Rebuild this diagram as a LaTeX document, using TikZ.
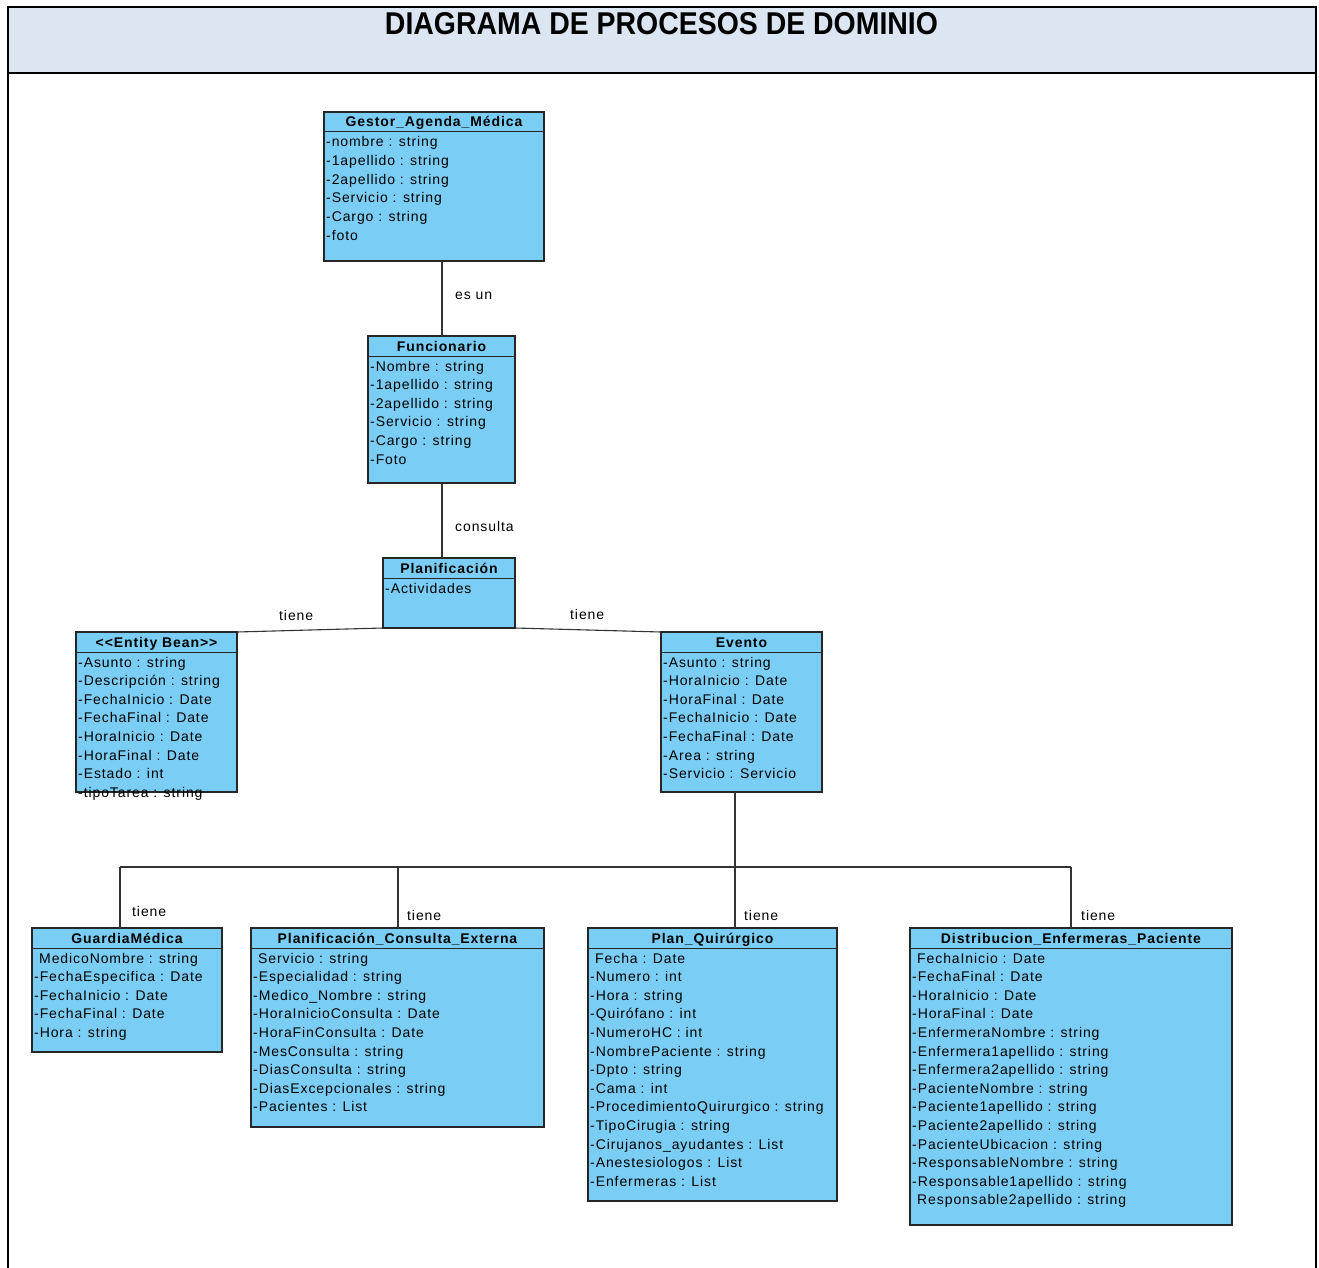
\documentclass[tikz,border=0pt]{standalone}
\usepackage{fontspec}
\usepackage{graphicx}
\usetikzlibrary{calc}
\setmainfont{Liberation Sans}
\newfontfamily\umlfont[LetterSpace=6.5]{Liberation Sans}

\definecolor{boxblue}{RGB}{122,206,245}
\definecolor{headerblue}{RGB}{220,230,242}

\tikzset{
  classbox/.style={draw=black!85, line width=1.1pt, fill=boxblue, anchor=north west,
                   inner sep=0pt, outer sep=0pt},
  sepline/.style={draw=black!85, line width=1pt},
  ctitle/.style={font=\umlfont\bfseries\fontsize{14}{16}\selectfont, anchor=base, inner sep=0pt},
  cattr/.style={font=\umlfont\fontsize{14}{16}\selectfont, anchor=base west, inner sep=0pt},
  link/.style={draw=black!80, line width=1.1pt},
  linklabel/.style={font=\umlfont\fontsize{14}{16}\selectfont, anchor=base west, inner sep=0pt},
}

% name, x1, y1, x2, y2, title, attributes
\newcommand\umlclass[7]{%
  \pgfmathsetmacro\cw{#4-#2}\pgfmathsetmacro\ch{#5-#3}%
  \node[classbox, minimum width=\cw pt, minimum height=\ch pt] (#1) at (#2,#3) {};
  \draw[sepline] ($(#1.north west)+(0,20)$) -- ($(#1.north east)+(0,20)$);
  \node[ctitle] (#1-title) at ($(#1.north)+(0,15)$) {#6};
  \foreach \a [count=\i from 0] in {#7} {
    \node[cattr] (#1-a\i) at ($(#1.north west)+(2,35+18.6*\i)$) {\a};
  }%
}

\begin{document}
\begin{tikzpicture}[x=1pt, y=-1pt]
\useasboundingbox (0,0) rectangle (1319,1268);

% frame and header band
\fill[headerblue] (8,7) rectangle (1316,73);
\draw[line width=2pt] (8,1270) -- (8,7) -- (1316,7) -- (1316,1270);
\draw[line width=2pt] (8,73) -- (1316,73);
\node[anchor=base, inner sep=0pt] (title) at (661.5,35)
  {\resizebox{553pt}{22pt}{\bfseries DIAGRAMA DE PROCESOS DE DOMINIO}};

% classes
\umlclass{gestor}{324}{112}{544}{261}{Gestor\_Agenda\_Médica}
  {-nombre : string, -1apellido : string, -2apellido : string, -Servicio : string, -Cargo : string, -foto}
\umlclass{func}{368}{336}{515}{483}{Funcionario}
  {-Nombre : string, -1apellido : string, -2apellido : string, -Servicio : string, -Cargo : string, -Foto}
\umlclass{plan}{383}{558}{515}{628}{Planificación}
  {-Actividades}
\umlclass{bean}{76}{632}{237}{792}{{<}{<}Entity Bean{>}{>}}
  {-Asunto : string, -Descripción : string, -FechaInicio : Date, -FechaFinal : Date, -HoraInicio : Date, -HoraFinal : Date, -Estado : int, -tipoTarea : string}
\umlclass{evento}{661}{632}{822}{792}{Evento}
  {-Asunto : string, -HoraInicio : Date, -HoraFinal : Date, -FechaInicio : Date, -FechaFinal : Date, -Area : string, -Servicio : Servicio}
\umlclass{guardia}{32}{928}{222}{1052}{GuardiaMédica}
  {\hspace{5pt}MedicoNombre : string, -FechaEspecifica : Date, -FechaInicio : Date, -FechaFinal : Date, -Hora : string}
\umlclass{pce}{251}{928}{544}{1127}{Planificación\_Consulta\_Externa}
  {\hspace{5pt}Servicio : string, -Especialidad : string, -Medico\_Nombre : string, -HoraInicioConsulta : Date, -HoraFinConsulta : Date, -MesConsulta : string, -DiasConsulta : string, -DiasExcepcionales : string, -Pacientes : List}
\umlclass{quir}{588}{928}{837}{1201}{Plan\_Quirúrgico}
  {\hspace{5pt}Fecha : Date, -Numero : int, -Hora : string, -Quirófano : int, -NumeroHC : int, -NombrePaciente : string, -Dpto : string, -Cama : int, -ProcedimientoQuirurgico : string, -TipoCirugia : string, -Cirujanos\_ayudantes : List, -Anestesiologos : List, -Enfermeras : List}
\umlclass{dist}{910}{928}{1232}{1225}{Distribucion\_Enfermeras\_Paciente}
  {\hspace{5pt}FechaInicio : Date, -FechaFinal : Date, -HoraInicio : Date, -HoraFinal : Date, -EnfermeraNombre : string, -Enfermera1apellido : string, -Enfermera2apellido : string, -PacienteNombre : string, -Paciente1apellido : string, -Paciente2apellido : string, -PacienteUbicacion : string, -ResponsableNombre : string, -Responsable1apellido : string, \hspace{5pt}Responsable2apellido : string}

% associations
\coordinate (stemA) at (442,0);
\draw[link] (stemA |- gestor.south) -- (stemA |- func.north);
\draw[link] (stemA |- func.south) -- (stemA |- plan.north);
\draw[link] (plan.south west) -- (bean.north east);
\draw[link] (plan.south east) -- (evento.north west);

\coordinate (busE) at (735,867);
\coordinate (busG) at (120,867);
\coordinate (busP) at (398,867);
\coordinate (busD) at (1071,867);
\draw[link] (busE |- evento.south) -- (busE);
\draw[link] (busG) -- (busD);
\draw[link] (busG) -- (busG |- guardia.north);
\draw[link] (busP) -- (busP |- pce.north);
\draw[link] (busE) -- (busE |- quir.north);
\draw[link] (busD) -- (busD |- dist.north);

% association labels
\node[linklabel] (l-esun) at (455,299) {es un};
\node[linklabel] (l-consulta) at (455,531) {consulta};
\node[linklabel] (l-bean) at (279,620) {tiene};
\node[linklabel] (l-evento) at (570,619) {tiene};
\node[linklabel] (l-guardia) at (132,916) {tiene};
\node[linklabel] (l-pce) at (407,920) {tiene};
\node[linklabel] (l-quir) at (744,920) {tiene};
\node[linklabel] (l-dist) at (1081,920) {tiene};
\end{tikzpicture}
\end{document}
